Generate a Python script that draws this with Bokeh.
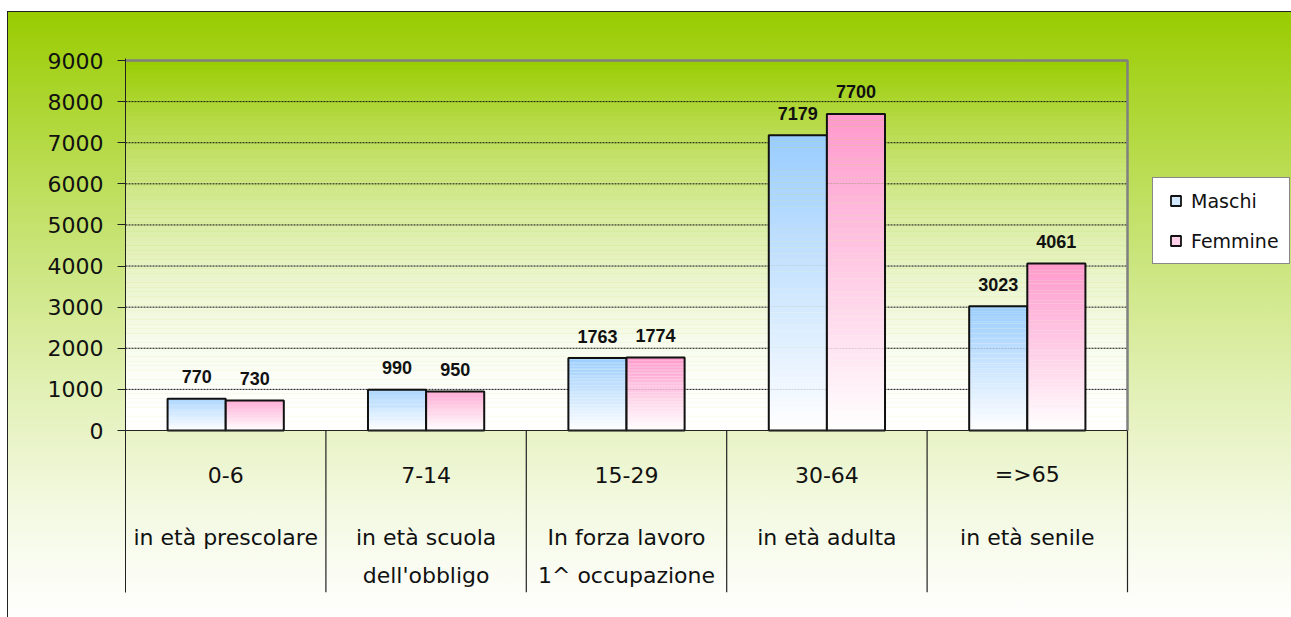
from bokeh.plotting import figure
from bokeh.models import Range1d, FixedTicker, Legend, LegendItem
from bokeh.core.properties import value
from bokeh.embed import file_html
from bokeh.resources import INLINE

# ---- data ----
age_ranges = ["0-6", "7-14", "15-29", "30-64", "=>65"]
descriptions = ["in età prescolare", "in età scuola\ndell'obbligo", "In forza lavoro\n1^ occupazione",
                "in età adulta", "in età senile"]
maschi = [770, 990, 1763, 7179, 3023]
femmine = [730, 950, 1774, 7700, 4061]
series_names = ["Maschi", "Femmine"]
y_ticks = [0, 1000, 2000, 3000, 4000, 5000, 6000, 7000, 8000, 9000]

# ---- styles ----
GREEN = (0x99, 0xCC, 0x00)
BLUE = (0x99, 0xCC, 0xFF)
PINK = (0xFF, 0x99, 0xCC)
FONT = "DejaVu Sans"


def mix(c, f):
    r = [round(255 + (ch - 255) * f) for ch in c]
    return "#%02x%02x%02x" % tuple(r)


n_cat = len(age_ranges)
y_max = y_ticks[-1]

# layout in pixels
W, H = 1291, 617
plot_left, plot_right = 125, 1127      # category area
plot_top, zero_px = 60, 430            # 9000 and 0
frame_top, frame_bottom = 58, 592
ppu_y = (zero_px - plot_top) / y_max
ppu_x = (plot_right - plot_left) / n_cat
y_start = -(frame_bottom - zero_px) / ppu_y
y_end = y_max + (plot_top - frame_top) / ppu_y
x_end = (W - plot_left) / ppu_x

# outer background gradient (CSS)
stops = []
for k in range(11):
    s = 1 - k / 10
    stops.append("%s %d%%" % (mix(GREEN, s ** 1.3), k * 10))
bg = ("linear-gradient(#222,#222) 7px 11px / 100% 1px no-repeat, "
      "linear-gradient(#222,#222) 7px 11px / 1px 100% no-repeat, "
      "linear-gradient(to bottom, " + ", ".join(stops) + ") 7px 11px / 100% 100% no-repeat, #ffffff")

p = figure(width=W, height=H, x_range=Range1d(0, x_end), y_range=Range1d(y_start, y_end),
           output_backend="svg", toolbar_location=None, x_axis_location=None,
           min_border_left=plot_left, min_border_right=0, min_border_top=frame_top,
           min_border_bottom=H - frame_bottom)
p.styles = {"background": bg}
p.background_fill_alpha = 0
p.border_fill_alpha = 0
p.outline_line_color = None
p.xgrid.visible = False
p.ygrid.visible = False

# plot-area gradient
N = 80
gl, gr, gb, gt, gc = [], [], [], [], []
for k in range(N):
    gl.append(0); gr.append(n_cat)
    gb.append(y_max * k / N); gt.append(y_max * (k + 1) / N)
    gc.append(mix(GREEN, ((k + 0.5) / N) ** 1.8))
grad = p.quad(left=gl, right=gr, bottom=gb, top=gt, fill_color=gc, line_color=None)
grad.level = "image"

# gridlines (dotted), limited to the category area
grid_y = y_ticks[:-1]
p.segment(x0=[0] * len(grid_y), y0=grid_y, x1=[n_cat] * len(grid_y), y1=grid_y,
          line_color="#111", line_dash="2 1", line_width=1)

# axes
ticker = FixedTicker(ticks=y_ticks)
yax = p.yaxis[0]
yax.ticker = ticker
yax.axis_line_color = "#222"
yax.major_tick_line_color = "#222"
yax.major_tick_out = 8
yax.major_tick_in = 0
yax.minor_tick_line_color = None
yax.major_label_standoff = 14
yax.major_label_text_font = FONT
yax.major_label_text_font_size = "22px"
yax.major_label_text_color = "#111"

# category separators below zero
sep_x = list(range(1, n_cat + 1))
p.segment(x0=sep_x, y0=[y_start] * len(sep_x), x1=sep_x, y1=[0] * len(sep_x), line_color="#222", line_width=1.2)
# plot area border (gray, top and right)
p.line(x=[0, n_cat, n_cat], y=[y_max, y_max, 0], line_color="#808080", line_width=2.5)

# bars with vertical gradient
bar_w = 0.29
NS = 50
legend_renderers = []
for si, (vals, col) in enumerate([(maschi, BLUE), (femmine, PINK)]):
    L, R, B, T, C = [], [], [], [], []
    for i, v in enumerate(vals):
        left = i + 0.5 - bar_w + si * bar_w
        for k in range(NS):
            L.append(left); R.append(left + bar_w)
            B.append(v * k / NS); T.append(v * (k + 1) / NS)
            C.append(mix(col, (k + 0.5) / NS))
    p.quad(left=L, right=R, bottom=B, top=T, fill_color=C, line_color=None)
    lefts = [i + 0.5 - bar_w + si * bar_w for i in range(n_cat)]
    centers = [l + bar_w / 2 for l in lefts]
    p.quad(left=lefts, right=[l + bar_w for l in lefts], bottom=[0] * n_cat, top=vals,
           fill_color=None, line_color="#111", line_width=2)
    p.text(x=centers, y=vals, text=[str(v) for v in vals],
           text_align="center", text_baseline="alphabetic", y_offset=-22,
           text_font=value("Liberation Sans"), text_font_style="bold", text_font_size="18px",
           text_color="#111")
    # zero-size markers used only for the legend swatch
    lr = p.scatter(x=centers, y=vals, size=0, marker="square", fill_color=mix(col, 0.45),
                   line_color="#111", line_width=1.8)
    legend_renderers.append(lr)

# zero line
p.segment(x0=[0], y0=[0], x1=[n_cat], y1=[0], line_color="#222", line_width=1.2)

# category labels
cx = [i + 0.5 for i in range(n_cat)]
line1 = age_ranges
line2 = [d.split("\n")[0] for d in descriptions]
line3 = [d.split("\n")[1] if "\n" in d else "" for d in descriptions]
for txt, off in [(line1, 44), (line2, 107), (line3, 145)]:
    p.text(x=cx, y=[0] * n_cat, text=txt, text_align="center", text_baseline="alphabetic",
           y_offset=off, text_font=value(FONT), text_font_size="22px", text_color="#111")

# legend (inside the extended frame, right of the category area)
leg_left, leg_bottom = 1152, 264
legend = Legend(items=[LegendItem(label=series_names[0], renderers=[legend_renderers[0]]),
                       LegendItem(label=series_names[1], renderers=[legend_renderers[1]])],
                location=(leg_left - plot_left, frame_bottom - leg_bottom), orientation="vertical",
                glyph_width=25, glyph_height=25, label_height=25, label_standoff=3,
                padding=10, spacing=15, margin=0,
                label_text_font=FONT, label_text_font_size="19px", label_text_color="#111",
                border_line_color="#111", border_line_width=1,
                background_fill_color="white", background_fill_alpha=1)
p.add_layout(legend)

open("out.html", "w").write(file_html(p, INLINE))
